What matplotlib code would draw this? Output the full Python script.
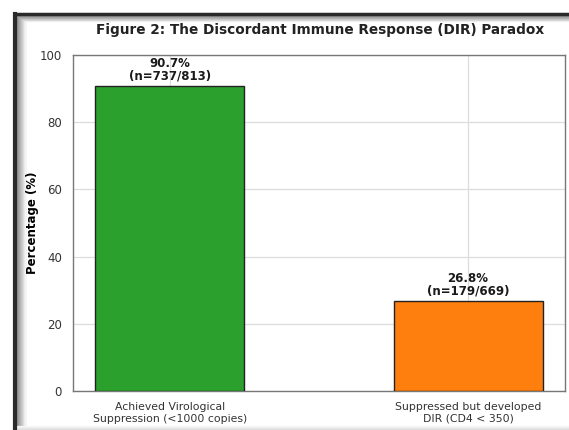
import numpy as np
import matplotlib
matplotlib.use('Agg')
import matplotlib.pyplot as plt
from matplotlib.lines import Line2D

categories = ['Achieved Virological\nSuppression (<1000 copies)',
              'Suppressed but developed\nDIR (CD4 < 350)']
percentages = [90.7, 26.8]
counts = ['(n=737/813)', '(n=179/669)']
colors = ['#2ca02c', '#ff7f0e']


def add_frame(fig):
    """Dark panel border with a soft inner shadow along the left and top."""
    W, H = fig.get_size_inches() * fig.dpi
    x0, y0 = 14.5 / W, 1 - 14.0 / H
    for i in range(10, 0, -1):
        shade = str(min(0.97, 0.45 + 0.05 * i))
        dx = (14.5 + 1.1 * i) / W
        dy = 1 - (14.0 + 0.7 * i) / H
        fig.add_artist(Line2D([dx, dx], [0, dy], transform=fig.transFigure,
                              color=shade, lw=1.2, zorder=-2))
        fig.add_artist(Line2D([dx, 1], [dy, dy], transform=fig.transFigure,
                              color=shade, lw=0.9, zorder=-2))
    fig.add_artist(Line2D([x0, x0], [0, y0], transform=fig.transFigure,
                          color='#2a2a2a', lw=3.0, zorder=-1))
    fig.add_artist(Line2D([x0, 1], [y0, y0], transform=fig.transFigure,
                          color='#2a2a2a', lw=2.5, zorder=-1))
    # faint shade along the bottom edge
    for i in range(5):
        dy = (0.5 + i) / H
        fig.add_artist(Line2D([x0, 1], [dy, dy], transform=fig.transFigure,
                              color=str(0.84 + 0.03 * i), lw=0.9, zorder=-2))


def main():
    fig = plt.figure(figsize=(5.69, 4.30), dpi=100)
    ax = fig.add_axes([73 / 569, 1 - 391 / 430, (565 - 73) / 569, (391 - 55) / 430])

    x = np.arange(len(categories))
    ax.bar(x, percentages, width=0.5, color=colors, edgecolor='#222222',
           linewidth=1.0, zorder=3)
    for xi, p, c in zip(x, percentages, counts):
        ax.text(xi, p + 1, f'{p}%\n{c}', ha='center', va='bottom',
                fontsize=8.5, fontweight='bold', color='#1a1a1a', linespacing=1.0)

    ax.set_xlim(-0.325, 1.325)
    ax.set_ylim(0, 100)
    ax.set_xticks(x)
    ax.set_xticklabels(categories, fontsize=7.8, color='#333333')
    ax.set_yticks(range(0, 101, 20))
    ax.tick_params(axis='y', labelsize=8.5, labelcolor='#333333', length=0, pad=8)
    ax.tick_params(axis='x', length=0, pad=8)
    ax.grid(True, color='#dddddd', linewidth=0.9, zorder=0)
    ax.set_axisbelow(True)
    for s in ax.spines.values():
        s.set_color('#777777')
        s.set_linewidth(1.0)

    ax.set_ylabel('Percentage (%)', fontsize=8.5, fontweight='bold')
    ax.yaxis.set_label_coords((39 - 73) / 492, 0.5)
    fig.text(320 / 569, 1 - 30 / 430,
             'Figure 2: The Discordant Immune Response (DIR) Paradox',
             ha='center', va='center', fontsize=9.8, fontweight='bold', color='#222222')

    add_frame(fig)
    fig.savefig('out.png', dpi=100)
    plt.close(fig)


if __name__ == '__main__':
    main()
